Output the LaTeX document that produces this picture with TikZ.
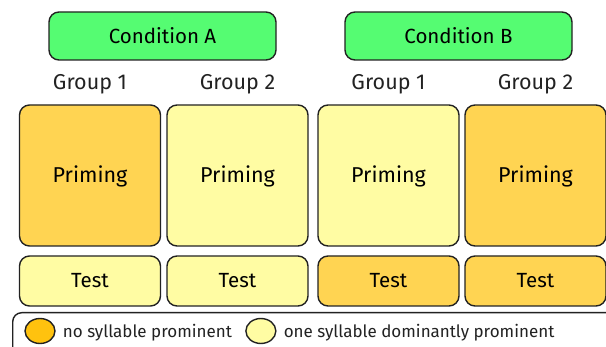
\documentclass[tikz,border=0pt]{standalone}
\usepackage{fontspec}
\setmainfont{Fira Sans}
\usetikzlibrary{positioning,shapes.geometric}
\definecolor{condgreen}{HTML}{55FC72}
\definecolor{noprom}{HTML}{FFD452}
\definecolor{oneprom}{HTML}{FFFCA3}
\definecolor{legorange}{HTML}{FFC20E}
\definecolor{edge}{HTML}{222222}
\tikzset{
  block/.style={draw=edge, line width=1.4pt, rounded corners=10pt, inner sep=0pt},
  condbox/.style={block, fill=condgreen, minimum width=227pt, minimum height=48pt, font=\fontsize{20.5}{24}\selectfont},
  primbox/.style={block, minimum width=141pt, minimum height=141pt, text depth=2pt, font=\fontsize{21.5}{24}\selectfont},
  testbox/.style={block, minimum width=141pt, minimum height=50pt, text depth=1pt, font=\fontsize{20.5}{24}\selectfont},
  grouplabel/.style={font=\fontsize{21.5}{24}\selectfont, text=edge},
  legmark/.style={draw=edge, line width=1.4pt, ellipse, minimum width=30pt, minimum height=25pt, inner sep=0pt},
  legtext/.style={font=\fontsize{17}{20}\selectfont, text=edge, inner sep=0pt}
}
\begin{document}
\begin{tikzpicture}[x=1pt, y=-1pt]
		\useasboundingbox (0,0) rectangle (606,347);

		% Conditions
		\node[condbox] (condA) at (162.5, 36) {Condition A};
		\node[condbox] (condB) at (458.5, 36) {Condition B};

		% Group labels
		\node[grouplabel] (gA1) at (90, 84) {Group 1};
		\node[grouplabel] (gA2) at (237.5, 84) {Group 2};
		\node[grouplabel] (gB1) at (388.5, 84) {Group 1};
		\node[grouplabel] (gB2) at (535.5, 84) {Group 2};

		% Priming blocks
		\node[primbox, fill=noprom] (pA1) at (90, 175.5) {Priming};
		\node[primbox, fill=oneprom] (pA2) at (237.5, 175.5) {Priming};
		\node[primbox, fill=oneprom] (pB1) at (388.5, 175.5) {Priming};
		\node[primbox, fill=noprom] (pB2) at (535.5, 175.5) {Priming};

		% Test blocks
		\node[testbox, fill=oneprom] (tA1) at (90, 281) {Test};
		\node[testbox, fill=oneprom] (tA2) at (237.5, 281) {Test};
		\node[testbox, fill=noprom] (tB1) at (388.5, 281) {Test};
		\node[testbox, fill=noprom] (tB2) at (535.5, 281) {Test};

		% Legend
		\node[block, rounded corners=9pt, fill=white, minimum width=620pt, minimum height=44pt, anchor=north west] (legend) at (12, 312) {};
		\node[legmark, fill=legorange] (mNo) at (40, 331) {};
		\node[legtext, right=7pt of mNo, yshift=-2pt] (lNo) {no syllable prominent};
		\node[legmark, fill=oneprom, right=13pt of lNo, yshift=2pt] (mOne) {};
		\node[legtext, right=7pt of mOne, yshift=-2pt] (lOne) {one syllable dominantly prominent};
\end{tikzpicture}
\end{document}
